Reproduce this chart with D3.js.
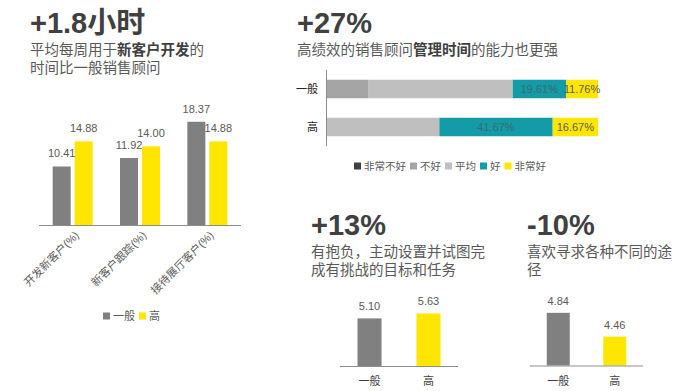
<!DOCTYPE html>
<html>
<head>
<meta charset="utf-8">
<script src="https://cdn.jsdelivr.net/npm/d3@7"></script>
<style>
  body { margin: 0; background: #fff; }
  svg text { font-family: "Liberation Sans", Arial, "Noto Sans CJK SC", sans-serif; }
</style>
</head>
<body>
<div class="main"></div>
<script>
// chart data
const seriesNames = ["一般", "高"];
const hourCats = ["开发新客户(%)", "新客户跟踪(%)", "接待展厅客户(%)"];
const hoursAvg = [10.41, 11.92, 18.37];
const hoursHigh = [14.88, 14.00, 14.88];

const stackRows = ["一般", "高"];
const stackKeys = ["非常不好", "不好", "平均", "好", "非常好"];
const stackAvg = [0, 15.69, 52.94, 19.61, 11.76];
const stackHigh = [0, 0, 41.67, 41.67, 16.67];
const labelledKeys = ["好", "非常好"];

const ambitionVals = [5.10, 5.63];
const ambitionDomain = [0, 6];
const variedVals = [4.84, 4.46];
const variedDomain = [4, 5];

const gray = "#808080";
const yellow = "#ffe600";
const stackColors = ["#404040", "#a5a5a5", "#bfbfbf", "#139ba7", "#ffe600"];
const axisColor = "#8c8c8c";
const textColor = "#595959";

let width = 682;
let height = 391;

let svg = d3.select(".main").append("svg")
    .attr("width", width)
    .attr("height", height);

svg.append("rect").attr("width", width).attr("height", height).attr("fill", "#fff");

// headline + subtitle block, parts: [text, bold]
function heading(x, y, big, lines) {
    svg.append("text")
        .attr("x", x).attr("y", y)
        .attr("font-size", 29)
        .attr("font-weight", "bold")
        .attr("fill", "#404040")
        .text(big);
    lines.forEach((parts, i) => {
        let t = svg.append("text")
            .attr("x", x).attr("y", y + 22 + i * 18)
            .attr("font-size", 14.5)
            .attr("fill", textColor);
        parts.forEach(p => {
            t.append("tspan")
                .attr("font-weight", p[1] ? "bold" : "normal")
                .attr("fill", p[1] ? "#404040" : textColor)
                .text(p[0]);
        });
    });
}

heading(30, 33, "+1.8小时", [
    [["平均每周用于", false], ["新客户开发", true], ["的", false]],
    [["时间比一般销售顾问", false]]
]);
heading(297, 33, "+27%", [
    [["高绩效的销售顾问", false], ["管理时间", true], ["的能力也更强", false]]
]);
heading(311, 235, "+13%", [
    [["有抱负，主动设置并试图完", false]],
    [["成有挑战的目标和任务", false]]
]);
heading(527, 235, "-10%", [
    [["喜欢寻求各种不同的途", false]],
    [["径", false]]
]);

// ---- grouped bars, top left
let hx = d3.scaleBand().domain(hourCats).range([39, 241]);
let hs = d3.scaleBand().domain(seriesNames).range([-20, 20]).paddingInner(0.18);
let hy = d3.scaleLinear().domain([0, 20]).range([225, 112.6]);

let hourRows = hourCats.map((c, i) => ({ cat: c, vals: [hoursAvg[i], hoursHigh[i]] }));

let groups = svg.selectAll(".hgroup")
    .data(hourRows)
    .enter().append("g")
    .attr("class", "hgroup")
    .attr("transform", d => `translate(${hx(d.cat) + hx.bandwidth() / 2},0)`);

groups.selectAll("rect")
    .data(d => d.vals.map((v, i) => ({ s: seriesNames[i], v: v })))
    .enter().append("rect")
    .attr("x", d => hs(d.s))
    .attr("width", hs.bandwidth())
    .attr("y", d => hy(d.v))
    .attr("height", d => hy(0) - hy(d.v))
    .attr("fill", d => d.s === "一般" ? gray : yellow);

groups.selectAll(".vlab")
    .data(d => d.vals.map((v, i) => ({ s: seriesNames[i], v: v })))
    .enter().append("text")
    .attr("class", "vlab")
    .attr("x", d => hs(d.s) + hs.bandwidth() / 2)
    .attr("y", d => hy(d.v) - 9)
    .attr("text-anchor", "middle")
    .attr("font-size", 11)
    .attr("fill", textColor)
    .text(d => d.v.toFixed(2));

svg.append("line")
    .attr("x1", 39).attr("x2", 241)
    .attr("y1", hy(0) + 0.5).attr("y2", hy(0) + 0.5)
    .attr("stroke", axisColor);

svg.selectAll(".hcat")
    .data(hourCats)
    .enter().append("text")
    .attr("class", "hcat")
    .attr("text-anchor", "end")
    .attr("font-size", 11)
    .attr("fill", textColor)
    .attr("transform", d => `translate(${hx(d) + hx.bandwidth() / 2 + 7},${hy(0) + 11}) rotate(-45)`)
    .text(d => d);

// legend bottom left
function legend(x, y, names, colors, size) {
    let lx = x;
    names.forEach((n, i) => {
        svg.append("rect")
            .attr("x", lx).attr("y", y - 3.5)
            .attr("width", 7).attr("height", 7)
            .attr("fill", colors[i]);
        let t = svg.append("text")
            .attr("x", lx + 10).attr("y", y + 4)
            .attr("font-size", size)
            .attr("fill", textColor)
            .text(n);
        lx += 10 + t.node().getComputedTextLength() + 4;
    });
}
legend(103, 316, seriesNames, [gray, yellow], 11);

// ---- stacked bars, top right
let sx = d3.scaleLinear().domain([0, 100]).range([326, 598]);
let sy = d3.scaleBand().domain(stackRows).range([70, 146]).paddingInner(0.513).paddingOuter(0.2565);

let stackTable = stackRows.map((r, i) => {
    let row = { row: r };
    let src = i === 0 ? stackAvg : stackHigh;
    stackKeys.forEach((k, j) => row[k] = src[j]);
    return row;
});
let stacked = d3.stack().keys(stackKeys)(stackTable);

let layers = svg.selectAll(".layer")
    .data(stacked)
    .enter().append("g")
    .attr("class", "layer")
    .attr("fill", (d, i) => stackColors[i]);

layers.selectAll("rect")
    .data(d => d.filter(s => s[1] > s[0]))
    .enter().append("rect")
    .attr("x", d => sx(d[0]))
    .attr("width", d => sx(d[1]) - sx(d[0]))
    .attr("y", d => sy(d.data.row))
    .attr("height", sy.bandwidth());

layers.filter(d => labelledKeys.includes(d.key))
    .selectAll("text")
    .data(d => d.filter(s => s[1] > s[0]).map(s => ({ s: s, key: d.key })))
    .enter().append("text")
    .attr("x", d => (sx(d.s[0]) + sx(d.s[1])) / 2)
    .attr("y", d => sy(d.s.data.row) + sy.bandwidth() / 2 + 4)
    .attr("text-anchor", "middle")
    .attr("font-size", 11)
    .attr("fill", d => d.key === "好" ? "#3f6a6e" : textColor)
    .text(d => (d.s[1] - d.s[0]).toFixed(2) + "%");

svg.append("line")
    .attr("x1", 326.5).attr("x2", 326.5)
    .attr("y1", 70).attr("y2", 146)
    .attr("stroke", axisColor);

svg.selectAll(".srow")
    .data(stackRows)
    .enter().append("text")
    .attr("class", "srow")
    .attr("x", 318)
    .attr("y", d => sy(d) + sy.bandwidth() / 2 + 4)
    .attr("text-anchor", "end")
    .attr("font-size", 11)
    .attr("fill", "#222")
    .text(d => d);

legend(354, 166, stackKeys, stackColors, 10.5);

// ---- small two-bar charts
function pairChart(x0, x1, axisY, topY, domain, values) {
    let x = d3.scaleBand().domain(seriesNames).range([x0, x1]).paddingInner(0.593).paddingOuter(0.2965);
    let y = d3.scaleLinear().domain(domain).range([axisY, topY]);
    let g = svg.append("g");
    g.selectAll("rect")
        .data(values)
        .enter().append("rect")
        .attr("x", (d, i) => x(seriesNames[i]))
        .attr("width", x.bandwidth())
        .attr("y", d => y(d))
        .attr("height", d => axisY - y(d))
        .attr("fill", (d, i) => i === 0 ? gray : yellow);
    g.selectAll(".plab")
        .data(values)
        .enter().append("text")
        .attr("class", "plab")
        .attr("x", (d, i) => x(seriesNames[i]) + x.bandwidth() / 2)
        .attr("y", d => y(d) - 8)
        .attr("text-anchor", "middle")
        .attr("font-size", 11)
        .attr("fill", textColor)
        .text(d => d.toFixed(2));
    g.append("line")
        .attr("x1", x0).attr("x2", x1)
        .attr("y1", axisY + 0.5).attr("y2", axisY + 0.5)
        .attr("stroke", axisColor);
    g.selectAll(".pcat")
        .data(seriesNames)
        .enter().append("text")
        .attr("class", "pcat")
        .attr("x", d => x(d) + x.bandwidth() / 2)
        .attr("y", axisY + 19)
        .attr("text-anchor", "middle")
        .attr("font-size", 11)
        .attr("fill", "#404040")
        .text(d => d);
}

pairChart(340, 458, 366, 310, ambitionDomain, ambitionVals);
pairChart(530, 643, 365.5, 302.8, variedDomain, variedVals);
</script>
</body>
</html>
